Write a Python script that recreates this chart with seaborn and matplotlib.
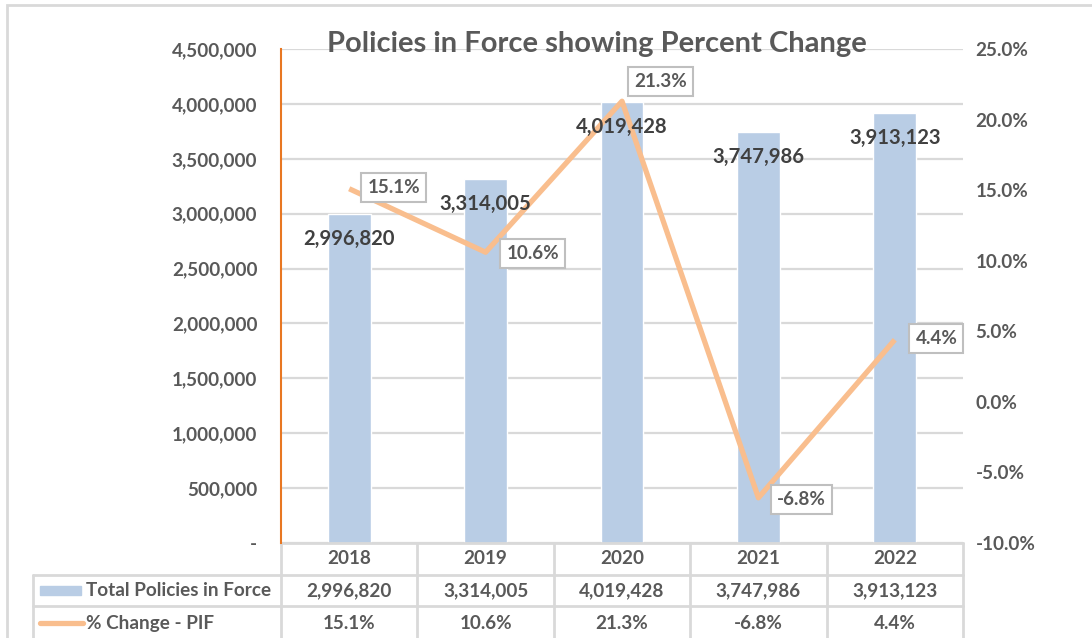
import numpy as np
import pandas as pd
import seaborn as sns
import matplotlib.pyplot as plt
from matplotlib.lines import Line2D
from matplotlib.patches import Rectangle
from matplotlib.ticker import FuncFormatter, MultipleLocator

years = ["2018", "2019", "2020", "2021", "2022"]
policies = [2996820, 3314005, 4019428, 3747986, 3913123]
pct_change = [15.1, 10.6, 21.3, -6.8, 4.4]

bar_name = "Total Policies in Force"
line_name = "% Change - PIF"
title = "Policies in Force showing Percent Change"

# label box offsets (points) for the line labels
label_offsets = [(32, 1), (34, -1), (28, 14), (31, -1), (30, 1)]

sns.set_theme(style="white")
plt.rcParams['font.family'] = ['Lato', 'DejaVu Sans']

TXT = "#595959"
GRID = "#D9D9D9"
BLUE = "#B9CDE5"
ORANGE = "#F9BE8E"
FS = 13.6

df = pd.DataFrame({"year": years, "pif": policies, "pct": pct_change})

fig = plt.figure(figsize=(10.92, 6.38), dpi=100)
ax = fig.add_axes([281 / 1092, 1 - 543 / 638, 682 / 1092, 494 / 638])

sns.barplot(df, x="year", y="pif", color=BLUE, width=0.315, saturation=1,
            ax=ax, zorder=2)
ax.set_xlim(-0.5, len(years) - 0.5)
ax.set_ylim(0, 4500000)
ax.yaxis.set_major_locator(MultipleLocator(500000))
ax.yaxis.set_major_formatter(FuncFormatter(lambda v, p: "-" if v == 0 else f"{v:,.0f}"))
ax.grid(axis="y", color=GRID, lw=1.6, zorder=0)
ax.set_axisbelow(True)
ax.set_xlabel("")
ax.set_ylabel("")
ax.set_xticks([])
for s in ["top", "right", "bottom"]:
    ax.spines[s].set_visible(False)
ax.spines["left"].set_color("#E87722")
ax.spines["left"].set_linewidth(1.5)
ax.tick_params(axis="y", length=0, pad=17, labelsize=FS, labelcolor=TXT)
for t in ax.get_yticklabels():
    t.set_fontweight("bold")

ax2 = ax.twinx()
sns.lineplot(x=np.arange(len(years)), y=pct_change, ax=ax2, color=ORANGE,
             lw=3.8, solid_capstyle="butt", zorder=3)
ax2.set_ylim(-10, 25)
ax2.yaxis.set_major_locator(MultipleLocator(5))
ax2.yaxis.set_major_formatter(FuncFormatter(lambda v, p: f"{v:.1f}%"))
ax2.tick_params(axis="y", length=0, pad=9, labelsize=FS, labelcolor=TXT)
for t in ax2.get_yticklabels():
    t.set_fontweight("bold")
for s in ax2.spines.values():
    s.set_visible(False)
ax2.set_xlim(-0.5, len(years) - 0.5)

# bar value labels sit above the line
for i, v in enumerate(policies):
    ax2.annotate(f"{v:,}", (i, v), xycoords=ax.transData, xytext=(0, -18),
                 textcoords="offset points", ha="center", va="center",
                 fontsize=14.6, fontweight="bold", color="#404040", zorder=5)

for i, v in enumerate(pct_change):
    ax2.annotate(f"{v:.1f}%", (i, v), xytext=label_offsets[i], textcoords="offset points",
                 ha="center", va="center", fontsize=FS, fontweight="bold", color=TXT,
                 bbox=dict(boxstyle="square,pad=0.32", fc="white", ec="#BFBFBF", lw=1.5),
                 zorder=6)

ax.set_title(title, fontsize=21, fontweight="bold", color=TXT, x=0.463, y=0.993, pad=0)

# data table under the plot
tr = ax.get_xaxis_transform()
n = len(years)
left_x = -2.318
rows_y = [0, -0.065, -0.1275, -0.2]
line_kw = dict(color=GRID, lw=2, transform=tr, clip_on=False)
ax.add_line(Line2D([-0.5, n - 0.5], [rows_y[0]] * 2, **line_kw))
for y in rows_y[1:3]:
    ax.add_line(Line2D([left_x, n - 0.5], [y, y], **line_kw))
for k in range(n + 1):
    ax.add_line(Line2D([k - 0.5, k - 0.5], [0, rows_y[-1]], **line_kw))
ax.add_line(Line2D([left_x, left_x], [rows_y[1], rows_y[-1]], **line_kw))

cell_kw = dict(transform=tr, ha="center", va="center", fontsize=FS,
               fontweight="bold", color=TXT, clip_on=False)
for i in range(n):
    ax.text(i, -0.031, years[i], **cell_kw)
    ax.text(i, -0.097, f"{policies[i]:,}", **cell_kw)
    ax.text(i, -0.162, f"{pct_change[i]:.1f}%", **cell_kw)

ax.add_patch(Rectangle((-2.267, -0.105), 0.30, 0.018, transform=tr,
                       color=BLUE, clip_on=False))
ax.add_line(Line2D([-2.267, -1.952], [-0.162, -0.162], color=ORANGE, lw=3.8,
                   transform=tr, clip_on=False, solid_capstyle="round"))
ax.text(-1.93, -0.097, bar_name, **{**cell_kw, "ha": "left"})
ax.text(-1.93, -0.162, line_name, **{**cell_kw, "ha": "left"})

# chart border
fig.add_artist(Rectangle((7 / 1092, -0.1), 1.2, 1 - 5 / 638 + 0.1,
                         transform=fig.transFigure, fill=False, ec=GRID, lw=2))

fig.savefig("out.png", dpi=100)
